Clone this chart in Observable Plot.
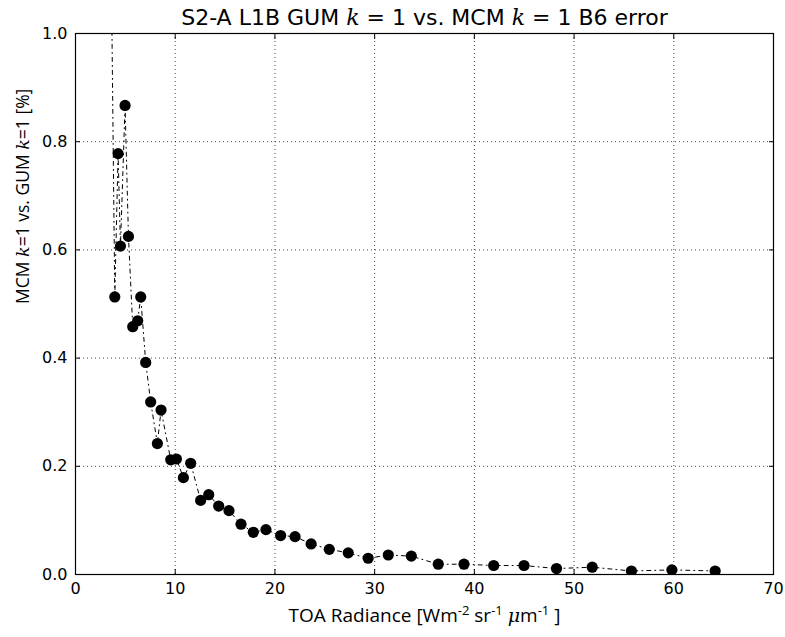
<!DOCTYPE html>
<html><head><meta charset="utf-8">
<script src="https://cdn.jsdelivr.net/npm/d3@7"></script>
<script src="https://cdn.jsdelivr.net/npm/@observablehq/plot@0.6"></script>
<style>body{margin:0;background:#fff} svg{display:block}</style>
</head><body><div id="chart"></div>
<script>
// TOA radiance (x) and MCM vs GUM difference in % (y), sorted by radiance
const radiance = [3.6, 3.94, 4.27, 4.51, 4.97, 5.31, 5.74, 6.24, 6.54, 7.04, 7.54, 8.21, 8.58, 9.55, 10.12, 10.82, 11.55, 12.55, 13.36, 14.36, 15.39, 16.6, 17.83, 19.1, 20.57, 22.02, 23.63, 25.45, 27.35, 29.35, 31.37, 33.68, 36.38, 38.96, 41.94, 44.98, 48.24, 51.82, 55.75, 59.81, 64.15];
const mcmError = [1.1, 0.513, 0.778, 0.607, 0.867, 0.625, 0.458, 0.469, 0.513, 0.392, 0.319, 0.242, 0.304, 0.212, 0.2135, 0.179, 0.2055, 0.137, 0.1475, 0.1265, 0.118, 0.093, 0.078, 0.083, 0.072, 0.070, 0.0565, 0.0465, 0.040, 0.030, 0.036, 0.034, 0.019, 0.019, 0.0166, 0.0166, 0.011, 0.0135, 0.0065, 0.0085, 0.0065];
const xTicks = [0, 10, 20, 30, 40, 50, 60, 70];
const yTicks = [0, 0.2, 0.4, 0.6, 0.8, 1.0];
const titleText = "S2-A L1B GUM k = 1 vs. MCM k = 1 B6 error";
const xLabelText = "TOA Radiance [Wm-2 sr-1 μm-1 ]";
const yLabelText = "MCM k=1 vs. GUM k=1 [%]";

const data = radiance.map((x, i) => ({x, y: mcmError[i]}));
const blank = () => "";

const chart = Plot.plot({
  width: 785, height: 637,
  marginLeft: 75, marginRight: 12, marginTop: 33, marginBottom: 63,
  style: {fontFamily: "DejaVu Sans", fontSize: "16px", background: "#fff", color: "#000"},
  x: {domain: [0, 70]},
  y: {domain: [0, 1]},
  marks: [
    Plot.gridX(xTicks, {stroke: "#000", strokeOpacity: 0.9, strokeWidth: 0.8, strokeDasharray: "1,3"}),
    Plot.gridY(yTicks, {stroke: "#000", strokeOpacity: 0.9, strokeWidth: 0.8, strokeDasharray: "1,3"}),
    Plot.line(data, {x: "x", y: "y", stroke: "#000", strokeWidth: 1, strokeDasharray: "4,4,1,4", clip: true}),
    Plot.dot(data, {x: "x", y: "y", r: 5.6, fill: "#000", stroke: "none", clip: true}),
    Plot.axisX(xTicks, {tickSize: 0, tickPadding: 8, label: null, fontSize: 16}),
    Plot.axisX(xTicks, {tickSize: -5, tickFormat: blank, label: null}),
    Plot.axisX(xTicks, {anchor: "top", tickSize: -5, tickFormat: blank, label: null}),
    Plot.axisY(yTicks, {tickSize: 0, tickPadding: 8, tickFormat: d3.format(".1f"), label: null, fontSize: 16}),
    Plot.axisY(yTicks, {tickSize: -5, tickFormat: blank, label: null}),
    Plot.axisY(yTicks, {anchor: "right", tickSize: -5, tickFormat: blank, label: null}),
    Plot.frame({stroke: "#000", strokeWidth: 1.2}),
    Plot.text([titleText], {frameAnchor: "top", dy: -9, fontSize: 22, fill: "#000", lineAnchor: "bottom"}),
    Plot.text([xLabelText], {frameAnchor: "bottom", dy: 47, fontSize: 19, fill: "#000", fontFamily: "Open Sans"}),
    Plot.text([yLabelText], {frameAnchor: "left", dx: -52, rotate: -90, fontSize: 17.5, fill: "#000", fontFamily: "Open Sans"})
  ]
});
document.getElementById("chart").appendChild(chart);

// rich text: italic math k, superscripts
const svg = d3.select(chart);
function rebuild(match, parts, supSize) {
  svg.selectAll("text").filter(function() { return this.textContent === match; }).each(function() {
    const t = d3.select(this);
    t.text(null);
    parts.forEach(p => {
      const s = t.append("tspan").text(p.t);
      if (p.it) s.attr("font-style", "italic").attr("font-family", "DejaVu Serif");
      if (p.sup) s.attr("dy", "-7").attr("font-size", supSize + "px");
      if (p.down) s.attr("dy", "7");
    });
  });
}
rebuild(titleText, [
  {t: "S2-A L1B GUM "}, {t: "k", it: true}, {t: " = 1 vs. MCM "}, {t: "k", it: true}, {t: " = 1 B6 error"}
], 12);
rebuild(xLabelText, [
  {t: "TOA Radiance [Wm"}, {t: "-2", sup: true}, {t: " sr", down: true}, {t: "-1", sup: true},
  {t: " ", down: true}, {t: "μ", it: true}, {t: "m"}, {t: "-1", sup: true}, {t: " ]", down: true}
], 13);
rebuild(yLabelText, [
  {t: "MCM "}, {t: "k", it: true}, {t: "=1 vs. GUM "}, {t: "k", it: true}, {t: "=1 [%]"}
], 12);
</script>
</body></html>
